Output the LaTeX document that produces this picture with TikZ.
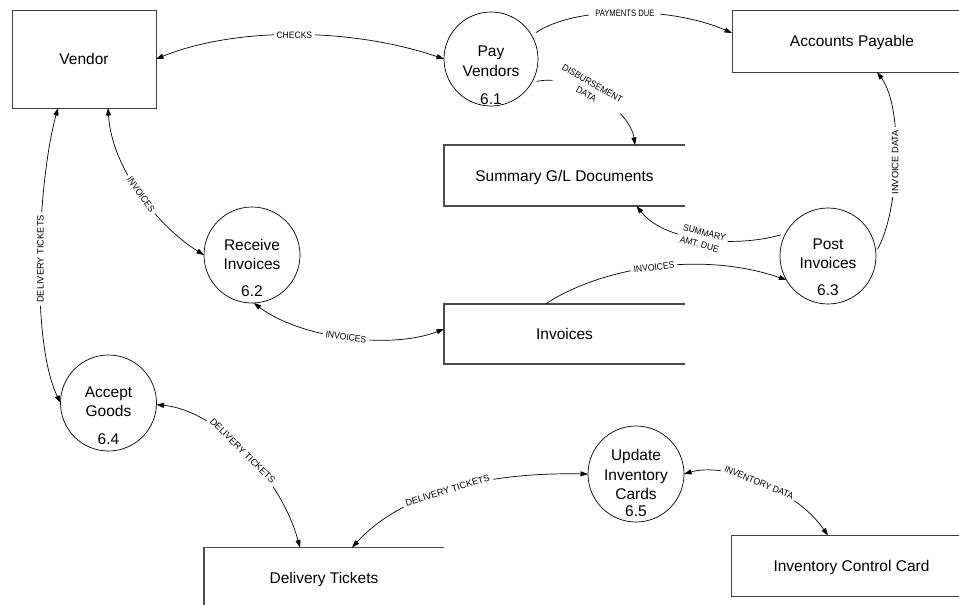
\documentclass[tikz,border=0pt]{standalone}
\usepackage{fontspec}
\setmainfont{Liberation Sans}
\newfontfamily\lblfont[FakeStretch=0.92]{Liberation Sans}
\newfontfamily\lblnarrow[FakeStretch=0.82]{Liberation Sans}
\usetikzlibrary{arrows.meta,calc}

\begin{document}
\begin{tikzpicture}[x=1pt,y=-1pt,
  every node/.style={inner sep=0pt, outer sep=0pt},
  bigtext/.style={font=\fontsize{15.5}{19.5}\selectfont},
  entity/.style={bigtext, rectangle, draw=black!75, line width=0.9pt,
    text height=11pt, text depth=0pt},
  store/.style={bigtext, rectangle, text height=11pt, text depth=0pt},
  storeline/.style={draw=black!70, line width=1.2pt},
  proc/.style={circle, draw, line width=0.7pt, minimum size=96pt},
  ptext/.style={bigtext, anchor=north, align=center},
  tip/.tip={Triangle[length=7.5pt,width=5pt]},
  flow/.style={line width=0.7pt, tip-tip},
  oneway/.style={line width=0.7pt, -tip},
  lbl/.style={fill=white, inner xsep=3pt, inner ysep=1.5pt,
    font=\lblfont\fontsize{9.3}{12.5}\selectfont},
  lblwide/.style={lbl, font=\fontsize{9.3}{12.5}\selectfont},
  lblnarrow/.style={lbl, font=\lblnarrow\fontsize{9.3}{12.5}\selectfont},
]
\fill[white] (0,0) rectangle (959,605);
\clip (0,0) rectangle (959,605);

% external entities
\node[entity, minimum width=144pt, minimum height=98pt] (vendor) at (84,59) {Vendor};
\node[entity, minimum width=240pt, minimum height=62pt] (ap) at (852,41) {Accounts Payable};
\node[entity, minimum width=240pt, minimum height=61pt] (icc) at (851.5,566) {Inventory Control Card};

% data stores (open on the right)
\node[store, minimum width=241pt, minimum height=61pt] (sg) at (564.5,175.5) {Summary G/L Documents};
\node[store, minimum width=241pt, minimum height=60pt] (inv) at (564.5,334) {Invoices};
\node[store, minimum width=240pt, minimum height=61pt] (dt) at (324,578) {Delivery Tickets};
\draw[storeline] (sg.north east) -- (sg.north west) -- (sg.south west) -- (sg.south east);
\draw[storeline] (inv.north east) -- (inv.north west) -- (inv.south west) -- (inv.south east);
\draw[storeline] (dt.north east) -- (dt.north west) -- (dt.south west) -- (dt.south east);

% processes
\node[proc, minimum size=94pt] (pv) at (491,59) {};
\node[proc] (ri) at (252,255) {};
\node[proc] (pi) at (828,256) {};
\node[proc] (ag) at (108.5,403) {};
\node[proc] (ui) at (636,474) {};

\node[ptext] (pv-txt) at (491,46.2) {Pay\\Vendors\\[8.5pt]6.1};
\node[ptext] (ri-txt) at (252,239.2) {Receive\\Invoices\\[7.5pt]6.2};
\node[ptext] (pi-txt) at (828,238.5) {Post\\Invoices\\[7.5pt]6.3};
\node[ptext] (ag-txt) at (108.5,386.5) {Accept\\Goods\\[8pt]6.4};
\node[ptext] (ui-txt) at (636,449.5) {Update\\Inventory\\Cards\\[-3pt]6.5};

% data flows
\draw[flow] (vendor.east) .. controls (235,27) and (350,27) .. (pv.west)
  node[lbl, pos=.5] (l-checks) {CHECKS};
\draw[oneway, shorten <=5pt] (pv.30) .. controls (575,6) and (670,6) .. ([yshift=8pt]ap.west)
  node[lblnarrow, pos=.5, inner xsep=6pt] (l-pay) {PAYMENTS DUE};
\draw[oneway, shorten <=5pt] (pv.-30) .. controls (575,73) and (630,110) .. ([xshift=70.5pt]sg.north)
  node[lbl, pos=.42, rotate=-30, align=center, inner xsep=5pt, yshift=3pt] (l-disb) {DISBURSEMENT\\DATA};
\draw[flow] ([xshift=24pt]vendor.south) .. controls (112,170) and (160,228) .. (ri.west)
  node[lbl, pos=.5, sloped] (l-inv1) {INVOICES};
\draw[flow] ([xshift=-26pt]vendor.south) .. controls (38,180) and (30,340) .. (ag.west)
  node[lblwide, pos=.5, rotate=90] (l-del1) {DELIVERY TICKETS};
\draw[flow] (ri.-88) .. controls (300,338) and (390,350) .. ([yshift=5pt]inv.west)
  node[lbl, pos=.5, sloped] (l-inv2) {INVOICES};
\draw[oneway] ([xshift=-19pt]inv.north) .. controls (600,268) and (700,250) .. (pi.210)
  node[lbl, pos=.5, sloped] (l-inv3) {INVOICES};
\draw[oneway, shorten <=5pt] (pi.152) .. controls (735,248) and (665,242) .. ([xshift=72pt]sg.south)
  node[lbl, pos=.5, rotate=-15, align=left] (l-sum) {SUMMARY\\AMT. DUE};
\draw[oneway, shorten <=3pt] (pi.5) .. controls (898,215) and (905,110) .. ([xshift=25pt]ap.south)
  node[lblwide, pos=.5, rotate=90] (l-invdata) {INVOICE DATA};
\draw[flow] (ag.-2) .. controls (215,410) and (280,475) .. ([xshift=-24pt]dt.north)
  node[lblwide, pos=.5, sloped] (l-del2) {DELIVERY TICKETS};
\draw[flow] ([xshift=28pt]dt.north) .. controls (400,495) and (480,472) .. (ui.west)
  node[lblwide, pos=.5, sloped] (l-del3) {DELIVERY TICKETS};
\draw[flow] (ui.east) .. controls (725,462) and (795,488) .. ([xshift=-23.5pt]icc.north)
  node[lbl, pos=.5, sloped] (l-invdat) {INVENTORY DATA};
\end{tikzpicture}
\end{document}
